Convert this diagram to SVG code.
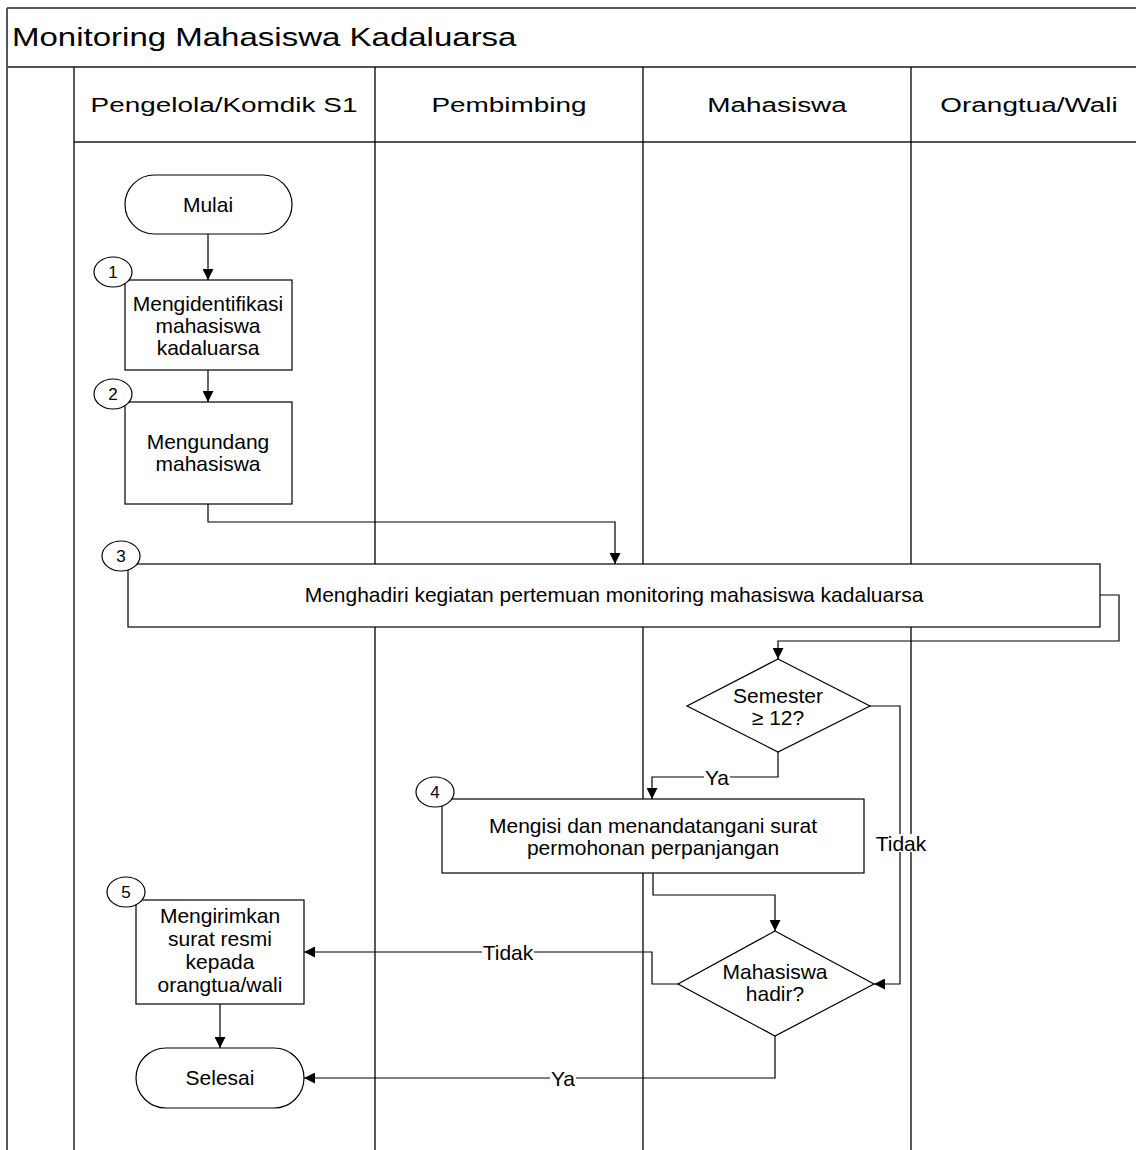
<svg xmlns="http://www.w3.org/2000/svg" width="1136" height="1150" viewBox="0 0 1136 1150">
<defs>
<style>
text{font-family:"Liberation Sans",Arial,sans-serif;fill:#000}
.frame{stroke:#555;stroke-width:2;fill:none}
.lane{stroke:#000;stroke-width:1.3;fill:none}
.node{fill:#fff;stroke:#000;stroke-width:1.2}
.t{font-size:21px;text-anchor:middle}
.num{font-size:17px;text-anchor:middle}
.hdr{font-size:21px;text-anchor:middle}
.conn{fill:none;stroke:#000;stroke-width:1.2}
.lbl{font-size:21px;text-anchor:middle}
</style>
<marker id="arr" viewBox="0 0 10 10" refX="10" refY="5" markerWidth="11" markerHeight="11" markerUnits="userSpaceOnUse" orient="auto">
<path d="M0,0 L10,5 L0,10 z" fill="#000"/>
</marker>
</defs>
<rect width="1136" height="1150" fill="#fff"/>
<g id="pool">
<line class="frame" x1="7" y1="8" x2="1136" y2="8"/>
<line class="frame" x1="7" y1="8" x2="7" y2="1150"/>
<line class="frame" x1="7" y1="67" x2="1136" y2="67"/>
<line class="frame" x1="74" y1="142" x2="1136" y2="142" stroke-width="1.5"/>
<line class="lane" x1="74" y1="67" x2="74" y2="1150"/>
<line class="lane" x1="375" y1="67" x2="375" y2="1150"/>
<line class="lane" x1="643" y1="67" x2="643" y2="1150"/>
<line class="lane" x1="911" y1="67" x2="911" y2="1150"/>
<text transform="translate(12,46) scale(1.27,1)" font-size="26">Monitoring Mahasiswa Kadaluarsa</text>
<text class="hdr" transform="translate(224,112) scale(1.33,1)">Pengelola/Komdik S1</text>
<text class="hdr" transform="translate(509,112) scale(1.33,1)">Pembimbing</text>
<text class="hdr" transform="translate(777,112) scale(1.33,1)">Mahasiswa</text>
<text class="hdr" transform="translate(1029,112) scale(1.33,1)">Orangtua/Wali</text>
</g>
<g id="connectors">
<line class="conn" x1="208" y1="234" x2="208" y2="280" marker-end="url(#arr)"/>
<line class="conn" x1="208" y1="370" x2="208" y2="402" marker-end="url(#arr)"/>
<path class="conn" d="M208,504 V522 H615 V564" marker-end="url(#arr)"/>
<path class="conn" d="M1100,595 H1119 V641 H778 V659" marker-end="url(#arr)"/>
<path class="conn" d="M778,752 V777 H652 V799" marker-end="url(#arr)"/>
<path class="conn" d="M870,706 H900 V984 H874" marker-end="url(#arr)"/>
<path class="conn" d="M653,873 V895 H775 V931" marker-end="url(#arr)"/>
<path class="conn" d="M678,984 H652 V952 H304" marker-end="url(#arr)"/>
<line class="conn" x1="220" y1="1004" x2="220" y2="1048" marker-end="url(#arr)"/>
<path class="conn" d="M775,1036 V1078 H304" marker-end="url(#arr)"/>
<rect x="704" y="768" width="26" height="18" fill="#fff"/>
<text class="lbl" x="717" y="785">Ya</text>
<rect x="875" y="834" width="52" height="18" fill="#fff"/>
<text class="lbl" x="901" y="851">Tidak</text>
<rect x="482" y="943" width="52" height="18" fill="#fff"/>
<text class="lbl" x="508" y="960">Tidak</text>
<rect x="550" y="1069" width="26" height="18" fill="#fff"/>
<text class="lbl" x="563" y="1086">Ya</text>
</g>
<g id="mulai">
<rect class="node" x="125" y="175" width="167" height="59" rx="29.5" ry="29.5"/>
<text class="t" x="208" y="212">Mulai</text>
</g>
<g id="step1">
<rect class="node" x="125" y="280" width="167" height="90"/>
<text class="t" x="208" y="311">Mengidentifikasi</text>
<text class="t" x="208" y="333">mahasiswa</text>
<text class="t" x="208" y="355">kadaluarsa</text>
<ellipse class="node" cx="113" cy="272" rx="19" ry="15"/>
<text class="num" x="113" y="278">1</text>
</g>
<g id="step2">
<rect class="node" x="125" y="402" width="167" height="102"/>
<text class="t" x="208" y="449">Mengundang</text>
<text class="t" x="208" y="471">mahasiswa</text>
<ellipse class="node" cx="113" cy="394" rx="19" ry="15"/>
<text class="num" x="113" y="400">2</text>
</g>
<g id="step3">
<rect class="node" x="128" y="564" width="972" height="63"/>
<text class="t" x="614" y="602">Menghadiri kegiatan pertemuan monitoring mahasiswa kadaluarsa</text>
<ellipse class="node" cx="121" cy="556" rx="19" ry="15"/>
<text class="num" x="121" y="562">3</text>
</g>
<g id="decision1">
<polygon class="node" points="778,659 870,706 778,752 687,706"/>
<text class="t" x="778" y="703">Semester</text>
<text class="t" x="778" y="725">≥ 12?</text>
</g>
<g id="step4">
<rect class="node" x="442" y="799" width="422" height="74"/>
<text class="t" x="653" y="833">Mengisi dan menandatangani surat</text>
<text class="t" x="653" y="855">permohonan perpanjangan</text>
<ellipse class="node" cx="435" cy="792" rx="19" ry="15"/>
<text class="num" x="435" y="798">4</text>
</g>
<g id="decision2">
<polygon class="node" points="775,931 874,984 775,1036 678,984"/>
<text class="t" x="775" y="979">Mahasiswa</text>
<text class="t" x="775" y="1001">hadir?</text>
</g>
<g id="step5">
<rect class="node" x="136" y="900" width="168" height="104"/>
<text class="t" x="220" y="923">Mengirimkan</text>
<text class="t" x="220" y="946">surat resmi</text>
<text class="t" x="220" y="969">kepada</text>
<text class="t" x="220" y="992">orangtua/wali</text>
<ellipse class="node" cx="126" cy="892" rx="19" ry="15"/>
<text class="num" x="126" y="898">5</text>
</g>
<g id="selesai">
<rect class="node" x="136" y="1048" width="168" height="60" rx="30" ry="30"/>
<text class="t" x="220" y="1085">Selesai</text>
</g>
</svg>
